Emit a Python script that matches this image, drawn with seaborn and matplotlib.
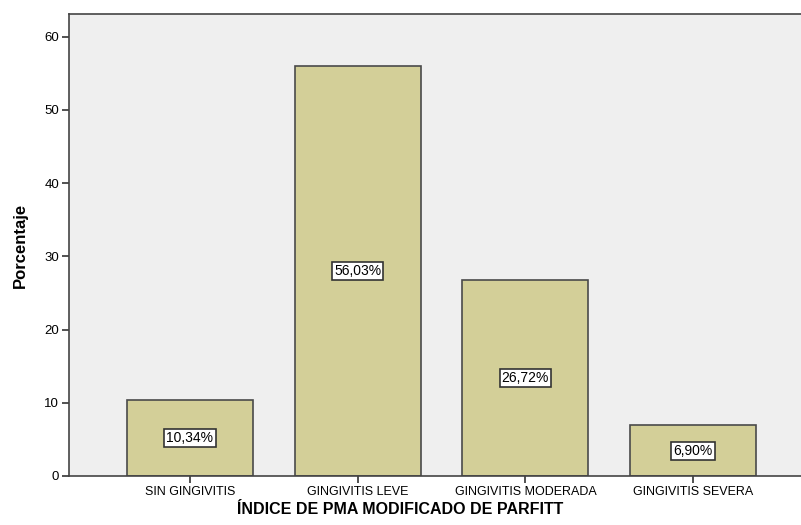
import matplotlib
matplotlib.use("Agg")
import matplotlib.pyplot as plt
import seaborn as sns
import pandas as pd

categories = ["SIN GINGIVITIS", "GINGIVITIS LEVE", "GINGIVITIS MODERADA", "GINGIVITIS SEVERA"]
percentages = [10.34, 56.03, 26.72, 6.90]
labels = ["10,34%", "56,03%", "26,72%", "6,90%"]
yticks = [0, 10, 20, 30, 40, 50, 60]

sns.set_theme(style="white")
plt.rcParams['font.family'] = ['Liberation Sans', 'DejaVu Sans']
plt.rcParams['text.color'] = 'black'
plt.rcParams['axes.labelcolor'] = 'black'
plt.rcParams['xtick.color'] = 'black'
plt.rcParams['ytick.color'] = 'black'

df = pd.DataFrame({"cat": categories, "pct": percentages})

fig = plt.figure(figsize=(8.01, 5.25), dpi=100)
ax = fig.add_axes([69/801, 49/525, 1 - 69/801 + 0.01, (476-14)/525])
ax.set_facecolor("#EFEFEF")

sns.barplot(data=df, x="cat", y="pct", ax=ax, color="#D3CF98", width=0.75,
            edgecolor="#4A4A4A", linewidth=1.2, saturation=1)

for i, (v, lab) in enumerate(zip(percentages, labels)):
    ax.text(i, v / 2, lab, ha="center", va="center", fontsize=10, color="black",
            bbox=dict(boxstyle="square,pad=0.16", facecolor="white", edgecolor="#333333", linewidth=1.2))

ax.set_xlim(-0.72, 3.69)
ax.set_ylim(0, 63.1)
ax.set_yticks(yticks)
ax.set_yticklabels([str(t) for t in yticks], fontsize=9.5)
ax.tick_params(axis="both", which="both", direction="out", length=5, width=1.2, color="#333333",
               left=True, bottom=True, pad=2)
ax.set_xticks(range(len(categories)))
ax.set_xticklabels(categories, fontsize=9)

for s in ["left", "bottom", "top"]:
    ax.spines[s].set_visible(True)
    ax.spines[s].set_color("#444444")
    ax.spines[s].set_linewidth(1.2)
ax.spines["right"].set_visible(False)

ax.set_ylabel("Porcentaje", fontsize=12, fontweight="bold", labelpad=12)
ax.set_xlabel("ÍNDICE DE PMA MODIFICADO DE PARFITT", fontsize=11.5, fontweight="bold")
ax.xaxis.set_label_coords((400.5 - 69) / 740, -0.057)

fig.savefig("out.png", dpi=100)
